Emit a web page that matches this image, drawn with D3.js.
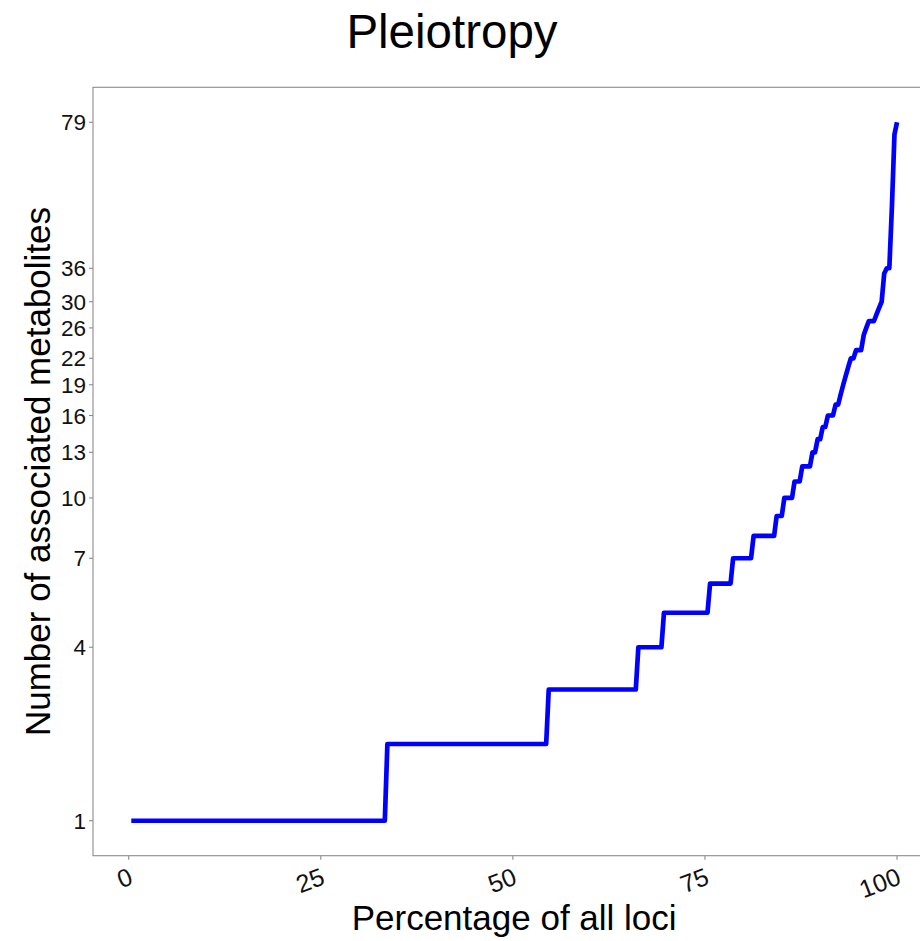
<!DOCTYPE html>
<html>
<head>
<meta charset="utf-8">
<script src="https://cdn.jsdelivr.net/npm/d3@7"></script>
<style>
    body { margin: 0; background: #fff; }
    svg { display: block; font-family: "Liberation Sans", Arial, Helvetica, sans-serif; }
    .axis-line { stroke: #8c8c8c; stroke-width: 1.1; fill: none; }
    .tick-mark { stroke: #8c8c8c; stroke-width: 1.1; }
    .tick-label { fill: #111; }
</style>
</head>
<body>
<script>
// Chart size and panel edges
const width = 920;
const height = 941;
const panel = { left: 93, top: 87.3, right: 935.3, bottom: 855.7 };

// Number of associated metabolites per locus, and how many loci have each count
const metaboliteCounts = [1, 2, 3, 4, 5, 6, 7, 8, 9, 10, 11, 12, 13, 14, 15, 16, 17, 18, 19, 20,
    21, 22, 23, 25, 26, 27, 28, 29, 30, 35, 36, 50, 74, 79];
const lociPerCount = [100, 63, 35, 10, 18, 9, 8, 9, 3, 4, 3, 4, 2, 2, 2, 3, 2, 1, 1, 1,
    1, 2, 3, 1, 1, 3, 1, 1, 1, 1, 2, 1, 1, 1];

// Tick labels
const xTicks = [0, 25, 50, 75, 100];
const yTicks = [1, 4, 7, 10, 13, 16, 19, 22, 26, 30, 36, 79];

// Expand the frequency table into one sorted value per locus
const values = [];
metaboliteCounts.forEach((v, i) => {
    for (let k = 0; k < lociPerCount[i]; k++) values.push(v);
});
const n = values.length;
const data = values.map((v, i) => ({ pct: (i + 1) / n * 100, count: v }));

const svg = d3.select("body")
    .append("svg")
    .attr("width", width)
    .attr("height", height);

// x scale with 5% padding like ggplot
const xMin = d3.min(data, d => d.pct);
const xMax = d3.max(data, d => d.pct);
const xPad = (xMax - xMin) * 0.05;
const xScale = d3.scaleLinear()
    .domain([xMin - xPad, xMax + xPad])
    .range([panel.left, panel.right]);

// y scale is log(x + 1), padded by 5% in transformed space
const tMin = Math.log1p(d3.min(values));
const tMax = Math.log1p(d3.max(values));
const tPad = (tMax - tMin) * 0.05;
const yScale = d3.scaleSymlog()
    .constant(1)
    .domain([Math.expm1(tMin - tPad), Math.expm1(tMax + tPad)])
    .range([panel.bottom, panel.top]);

// Panel border (right side falls outside the picture)
svg.append("rect")
    .attr("class", "axis-line")
    .attr("x", panel.left)
    .attr("y", panel.top)
    .attr("width", panel.right - panel.left)
    .attr("height", panel.bottom - panel.top);

// x ticks
const xAxis = svg.append("g");
xAxis.selectAll("line")
    .data(xTicks)
    .join("line")
    .attr("class", "tick-mark")
    .attr("x1", d => xScale(d))
    .attr("x2", d => xScale(d))
    .attr("y1", panel.bottom)
    .attr("y2", panel.bottom + 4);

xAxis.selectAll("text")
    .data(xTicks)
    .join("text")
    .attr("class", "tick-label")
    .attr("font-size", 25)
    .attr("text-anchor", "end")
    .attr("dy", "0.72em")
    .attr("transform", d => `translate(${xScale(d) - 1}, ${panel.bottom + 11}) rotate(-21)`)
    .text(d => d);

// y ticks
const yAxis = svg.append("g");
yAxis.selectAll("line")
    .data(yTicks)
    .join("line")
    .attr("class", "tick-mark")
    .attr("x1", panel.left - 4)
    .attr("x2", panel.left)
    .attr("y1", d => yScale(d))
    .attr("y2", d => yScale(d));

yAxis.selectAll("text")
    .data(yTicks)
    .join("text")
    .attr("class", "tick-label")
    .attr("font-size", 22.5)
    .attr("text-anchor", "end")
    .attr("x", panel.left - 7)
    .attr("y", d => yScale(d))
    .attr("dy", "0.36em")
    .text(d => d);

// The curve
const line = d3.line()
    .x(d => xScale(d.pct))
    .y(d => yScale(d.count));

svg.append("path")
    .datum(data)
    .attr("d", line)
    .attr("fill", "none")
    .attr("stroke", "#0000ff")
    .attr("stroke-width", 4.7)
    .attr("stroke-linejoin", "round");

// Title and axis labels
svg.append("text")
    .attr("x", 452)
    .attr("y", 48)
    .attr("text-anchor", "middle")
    .attr("font-size", 47.5)
    .text("Pleiotropy");

svg.append("text")
    .attr("x", (panel.left + panel.right) / 2)
    .attr("y", 930)
    .attr("text-anchor", "middle")
    .attr("font-size", 35)
    .text("Percentage of all loci");

svg.append("text")
    .attr("transform", `translate(50, ${(panel.top + panel.bottom) / 2}) rotate(-90)`)
    .attr("text-anchor", "middle")
    .attr("font-size", 35)
    .text("Number of associated metabolites");
</script>
</body>
</html>
